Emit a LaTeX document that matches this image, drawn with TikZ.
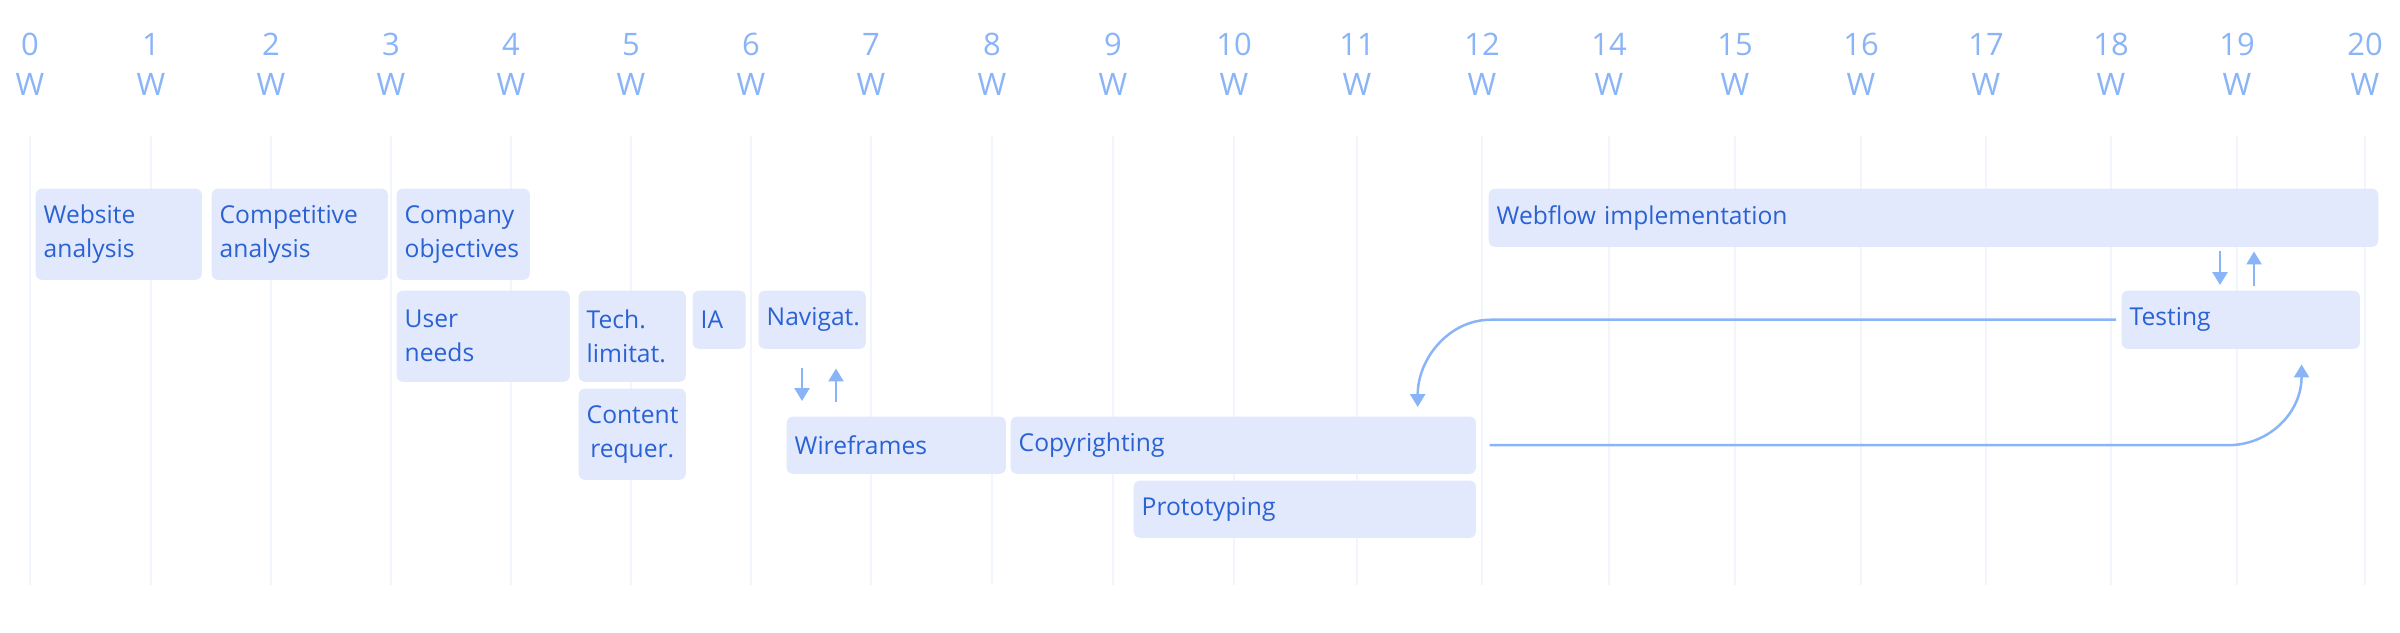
\documentclass[tikz,border=0pt]{standalone}
\usepackage{fontspec}
\setmainfont{Open Sans}
\usetikzlibrary{positioning, arrows.meta, calc}

\definecolor{taskfill}{HTML}{E3E9FC}
\definecolor{tasktext}{HTML}{2A62D4}
\definecolor{weekblue}{HTML}{8AB4F8}
\definecolor{gridblue}{HTML}{F1F5FC}

\begin{document}
\begin{tikzpicture}[
    x = 0.01cm, y = -0.01cm, % one unit = one pixel, y runs down
    > = {Triangle[length=0.13cm, width=0.15cm]},
    week/.style={align=center, text=weekblue, font=\fontsize{8.8}{11.4}\selectfont, inner sep=0pt},
    gridline/.style={draw=gridblue, line width=0.015cm},
    task/.style={anchor=north west, fill=taskfill, text=tasktext, rounded corners=0.06cm,
        align=left, inner xsep=0.08cm, inner ysep=0pt, font=\fontsize{7}{9.7}\selectfont},
    flow/.style={->, draw=weekblue, line width=0.025cm}
]
\useasboundingbox (0,0) rectangle (2400,632);

% --- Week scale and grid ---
\foreach \x/\w in {30/0, 151/1, 271/2, 391/3, 511/4, 631/5, 751/6, 871/7, 992/8, 1113/9,
    1234/10, 1357/11, 1482/12, 1609/14, 1735/15, 1861/16, 1986/17, 2111/18, 2237/19, 2365/20} {
    \draw[gridline] (\x,136) -- (\x,585);
    \node[week] (w\w) at (\x,64) {\w\\W};
}

% --- Research ---
\node[task, text width=1.50cm, minimum height=0.91cm] (site) at (35,188) {Website\\analysis};
\node[task, text width=1.60cm, minimum height=0.91cm] (competitors) at (211,188) {Competitive\\analysis};
\node[task, text width=1.17cm, minimum height=0.91cm] (objectives) at (396,188) {Company\\objectives};
\node[task, text width=1.57cm, minimum height=0.91cm] (needs) at (396,290) {User\\needs};
\node[task, text width=0.91cm, minimum height=0.91cm] (tech) at (578,290) {Tech.\\limitat.};
\node[task, text width=0.91cm, minimum height=0.91cm, align=center] (content) at (578,388) {Content\\requer.};

% --- Structure and design ---
\node[task, text width=0.37cm, minimum height=0.58cm] (ia) at (692,290) {IA};
\node[task, text width=0.91cm, minimum height=0.58cm] (nav) at (758,290) {Navigat.};
\node[task, text width=2.03cm, minimum height=0.57cm] (wire) at (786,416) {Wireframes};
\node[task, text width=4.49cm, minimum height=0.57cm] (copy) at (1010,416) {Copyrighting};
\node[task, text width=3.26cm, minimum height=0.57cm] (proto) at (1133,480) {Prototyping};

% --- Build ---
\node[task, text width=8.73cm, minimum height=0.58cm] (webflow) at (1488,188) {Webflow implementation};
\node[task, text width=2.22cm, minimum height=0.58cm] (testing) at (2121,290) {Testing};

% Navigat. <-> Wireframes
\draw[flow, shorten <=0.19cm, shorten >=0.15cm] ($(nav.south west)+(44,0)$) -- ($(nav.south west |- wire.north)+(44,0)$);
\draw[flow, shorten <=0.14cm, shorten >=0.19cm] ($(nav.south west |- wire.north)+(78,0)$) -- ($(nav.south west)+(78,0)$);

% Webflow <-> Testing
\draw[flow, shorten <=0.04cm, shorten >=0.05cm] ($(webflow.south -| testing.north west)+(99,0)$) -- ($(testing.north west)+(99,0)$);
\draw[flow, shorten <=0.04cm, shorten >=0.04cm] ($(testing.north west)+(133,0)$) -- ($(webflow.south -| testing.north west)+(133,0)$);

% Testing back to Copyrighting
\draw[flow] ($(testing.west)+(-5,0)$) -- ($(copy.north east |- testing.west)+(14,0)$)
    .. controls +(-42,0) and +(0,-48) .. ($(copy.north east)+(-59,-9)$);

% Copyrighting on to Testing
\draw[flow] ($(copy.east)+(13,0)$) -- ($(copy.east -| testing.south east)+(-133,0)$)
    .. controls +(42,0) and +(0,48) .. ($(testing.south east)+(-59,15)$);

\end{tikzpicture}
\end{document}
